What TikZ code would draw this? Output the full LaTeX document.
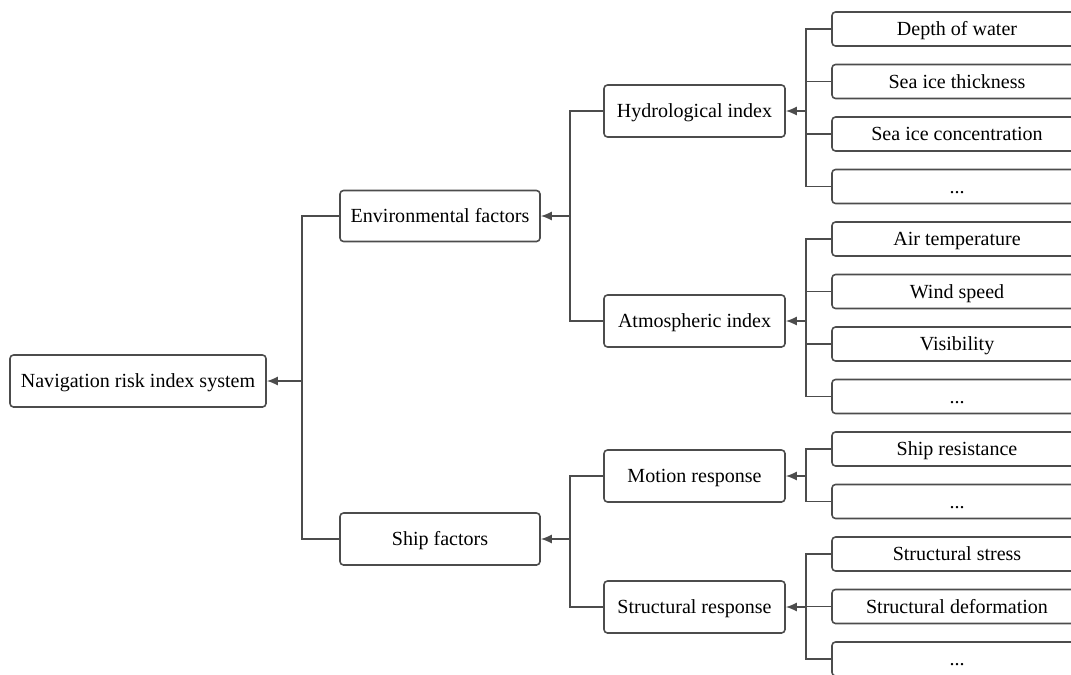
\documentclass[tikz,border=0pt]{standalone}
\usepackage{fontspec}
\setmainfont{Liberation Serif}
\usetikzlibrary{positioning}
\usetikzlibrary{arrows.meta}

\begin{document}
\begin{tikzpicture}[
        box/.style={
            rectangle,
            draw=black!70,
            line width=0.9pt,
            rounded corners=2pt,
            font=\fontsize{11.4}{13.7}\selectfont,
            inner sep=0pt,
            text height=1.85ex,
            text depth=0.2ex,
        },
        mid/.style={
            box,
            minimum width=3.62cm,
            minimum height=1.04cm,
        },
        leaf/.style={
            box,
            minimum width=5cm,
            minimum height=0.68cm,
        },
        link/.style={
            draw=black!70,
            line width=0.9pt,
        },
        arrow/.style={
            link,
            -{Latex[length=2.2mm,width=1.8mm]},
        }
    ]

    \useasboundingbox (0,0) rectangle (21.42,-13.48);
    \clip (0,0) rectangle (21.42,-13.48);

    \node (root) at (2.76,-7.62) [box, minimum width=5.12cm, minimum height=1.04cm] {Navigation risk index system};
    \node (env) at (8.8,-4.32) [box, minimum width=4cm, minimum height=1.02cm] {Environmental factors};
    \node (ship) at (8.8,-10.78) [box, minimum width=4cm, minimum height=1.04cm] {Ship factors};

    \node (hydro) at (13.89,-2.22) [mid] {Hydrological index};
    \node (atmo) at (13.89,-6.42) [mid] {Atmospheric index};
    \node (motion) at (13.89,-9.52) [mid] {Motion response};
    \node (struct) at (13.89,-12.14) [mid] {Structural response};

    \node (depth) at (19.14,-0.58) [leaf] {Depth of water};
    \node (thick) at (19.14,-1.63) [leaf] {Sea ice thickness};
    \node (conc) at (19.14,-2.68) [leaf] {Sea ice concentration};
    \node (hmore) at (19.14,-3.73) [leaf] {...};
    \node (temp) at (19.14,-4.78) [leaf] {Air temperature};
    \node (wind) at (19.14,-5.83) [leaf] {Wind speed};
    \node (vis) at (19.14,-6.88) [leaf] {Visibility};
    \node (amore) at (19.14,-7.93) [leaf] {...};
    \node (resist) at (19.14,-8.98) [leaf] {Ship resistance};
    \node (mmore) at (19.14,-10.03) [leaf] {...};
    \node (stress) at (19.14,-11.08) [leaf] {Structural stress};
    \node (deform) at (19.14,-12.13) [leaf] {Structural deformation};
    \node (smore) at (19.14,-13.18) [leaf] {...};

    % junctions on the trunks
    \coordinate (jroot) at (6.04,-7.62);
    \coordinate (jenv) at (11.4,-4.32);
    \coordinate (jship) at (11.4,-10.78);
    \coordinate (jhydro) at (16.12,-2.22);
    \coordinate (jatmo) at (16.12,-6.42);
    \coordinate (jmotion) at (16.12,-9.52);
    \coordinate (jstruct) at (16.12,-12.14);

    \draw [link] (env.west) -| (jroot);
    \draw [link] (ship.west) -| (jroot);
    \draw [arrow] (jroot) -- (root.east);

    \draw [link] (hydro.west) -| (jenv);
    \draw [link] (atmo.west) -| (jenv);
    \draw [arrow] (jenv) -- (env.east);

    \draw [link] (motion.west) -| (jship);
    \draw [link] (struct.west) -| (jship);
    \draw [arrow] (jship) -- (ship.east);

    \draw [link] (depth.west) -| (jhydro);
    \draw [link] (thick.west) -| (jhydro);
    \draw [link] (conc.west) -| (jhydro);
    \draw [link] (hmore.west) -| (jhydro);
    \draw [arrow] (jhydro) -- (hydro.east);

    \draw [link] (temp.west) -| (jatmo);
    \draw [link] (wind.west) -| (jatmo);
    \draw [link] (vis.west) -| (jatmo);
    \draw [link] (amore.west) -| (jatmo);
    \draw [arrow] (jatmo) -- (atmo.east);

    \draw [link] (resist.west) -| (jmotion);
    \draw [link] (mmore.west) -| (jmotion);
    \draw [arrow] (jmotion) -- (motion.east);

    \draw [link] (stress.west) -| (jstruct);
    \draw [link] (deform.west) -| (jstruct);
    \draw [link] (smore.west) -| (jstruct);
    \draw [arrow] (jstruct) -- (struct.east);

\end{tikzpicture}
\end{document}
